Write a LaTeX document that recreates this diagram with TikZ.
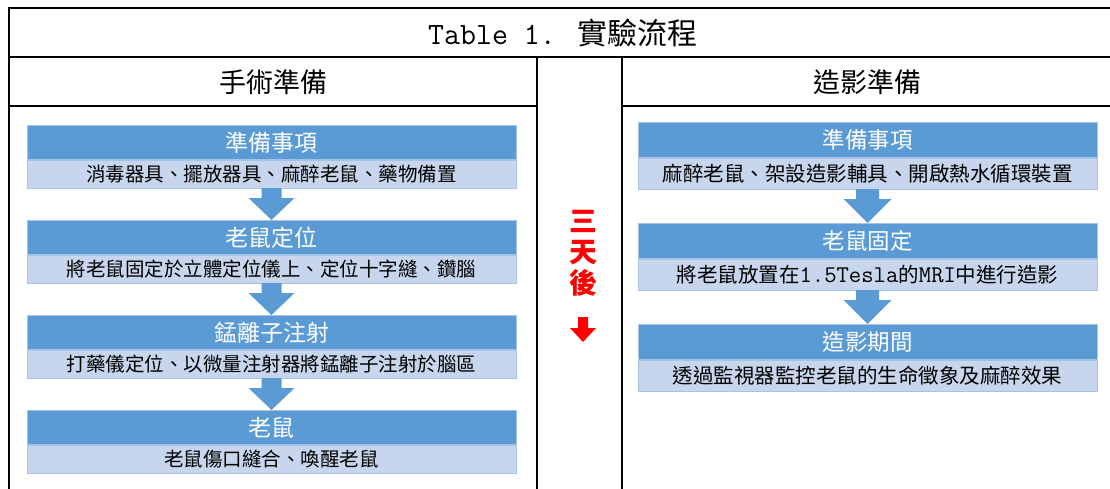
\documentclass[tikz,border=0pt]{standalone}
\usepackage{fontspec}
\newfontfamily\cjk{Noto Sans CJK TC}
\usetikzlibrary{calc}
\definecolor{dkb}{HTML}{5B9BD5}
\definecolor{ltb}{HTML}{C7D6EC}
\definecolor{edg}{HTML}{A6C2E6}
\definecolor{redt}{HTML}{FF0000}
\newcommand\bluearrow[5]{%
  \fill[dkb] ($(#1.south)+(-#3,0)$) -- ($(#1.south)+(#3,0)$) -- ($(#2.north)+(#3,-#5)$) -- ($(#2.north)+(#4,-#5)$) -- (#2.north) -- ($(#2.north)+(-#4,-#5)$) -- ($(#2.north)+(-#3,-#5)$) -- cycle;}
\tikzset{
  grid/.style={line width=2pt, line cap=rect},
  hdbox/.style={fill=dkb, draw=edg, line width=0.6pt, text=white, inner sep=0pt, anchor=north},
  sbbox/.style={fill=ltb, draw=edg, line width=0.6pt, text=black, inner sep=0pt, anchor=north},
  lhd/.style={hdbox, minimum width=489pt, minimum height=34pt, font=\cjk\fontsize{23}{23}\selectfont},
  lsb/.style={sbbox, minimum width=489pt, minimum height=28pt, font=\cjk\fontsize{19.5}{19.5}\selectfont},
  rhd/.style={hdbox, minimum width=459pt, minimum height=35pt, font=\cjk\fontsize{22.5}{22.5}\selectfont},
  rsb/.style={sbbox, minimum width=459pt, minimum height=31pt, font=\cjk\fontsize{20.5}{20.5}\selectfont},
  colhead/.style={font=\cjk\fontsize{27}{27}\selectfont, inner sep=0pt},
}
\begin{document}
\begin{tikzpicture}[x=1pt, y=-1pt]
\useasboundingbox (0,0) rectangle (1110,489);
% table grid
\draw[grid] (9,8) -- (1112,8);
\draw[grid] (9,57) -- (1112,57);
\draw[grid] (9,106) -- (537,106);
\draw[grid] (622,106) -- (1112,106);
\draw[grid] (9,8) -- (9,492);
\draw[grid] (537,57) -- (537,492);
\draw[grid] (622,57) -- (622,492);
% title and column heads
\node[inner sep=0pt] (title) at (563,33) {\ttfamily\fontsize{31}{32}\selectfont Table 1.\hspace{22pt}\cjk\fontsize{30}{30}\selectfont 實驗流程};
\node[colhead] (hleft) at (273,82) {手術準備};
\node[colhead] (hright) at (867,82) {造影準備};
% left column
\node[lhd] (a1) at (271.5,125) {準備事項};
\node[lsb] (a1s) at (a1.south) {消毒器具、擺放器具、麻醉老鼠、藥物備置};
\node[lhd] (a2) at (271.5,220) {老鼠定位};
\node[lsb] (a2s) at (a2.south) {將老鼠固定於立體定位儀上、定位十字縫、鑽腦};
\node[lhd] (a3) at (271.5,315) {錳離子注射};
\node[lsb] (a3s) at (a3.south) {打藥儀定位、以微量注射器將錳離子注射於腦區};
\node[lhd] (a4) at (271.5,410) {老鼠};
\node[lsb] (a4s) at (a4.south) {老鼠傷口縫合、喚醒老鼠};
\bluearrow{a1s}{a2}{10}{23}{22}
\bluearrow{a2s}{a3}{10}{23}{22}
\bluearrow{a3s}{a4}{10}{23}{22}
% middle
\node[text=redt, font=\cjk\bfseries\fontsize{28}{31}\selectfont, align=center, inner sep=0pt] (mid) at (583,253) {三\\天\\後};
\fill[redt] (578,317) -- (588,317) -- (588,328) -- (596,328) -- (583,342) -- (570,328) -- (578,328) -- cycle;
% right column
\node[rhd] (b1) at (867.5,122) {準備事項};
\node[rsb] (b1s) at (b1.south) {麻醉老鼠、架設造影輔具、開啟熱水循環裝置};
\node[rhd] (b2) at (867.5,223) {老鼠固定};
\node[rsb] (b2s) at (b2.south) {將老鼠放置在{\ttfamily\fontsize{24}{24}\selectfont 1.5Tesla}的{\ttfamily\fontsize{24}{24}\selectfont MRI}中進行造影};
\node[rhd] (b3) at (867.5,324) {造影期間};
\node[rsb] (b3s) at (b3.south) {透過監視器監控老鼠的生命徵象及麻醉效果};
\bluearrow{b1s}{b2}{11.5}{24}{24}
\bluearrow{b2s}{b3}{11.5}{24}{24}
\end{tikzpicture}
\end{document}
